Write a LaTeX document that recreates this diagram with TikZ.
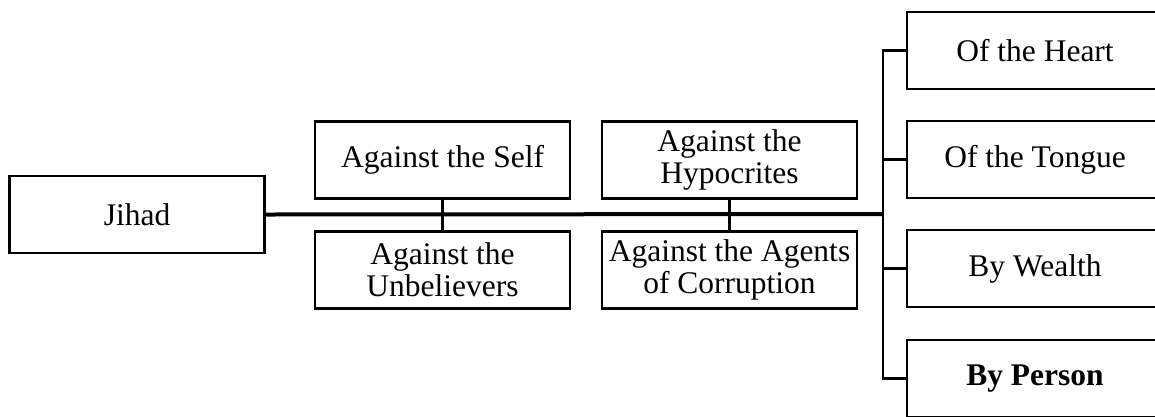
\documentclass[tikz,border=0pt]{standalone}
\usepackage{fontspec}
\setmainfont{Liberation Serif}
\begin{document}
\begin{tikzpicture}[x=1pt,y=-1pt,
  box/.style={draw=black, line width=2.8pt, fill=white, minimum width=255pt, minimum height=77pt,
    inner sep=0pt, align=center, font=\fontsize{31.5}{32}\selectfont},
  trunk/.style={line width=4pt},
  link/.style={line width=2.5pt}]
\useasboundingbox (0,0) rectangle (1155,416);
\clip (0,0) rectangle (1155,416);
\node[box] (jihad) at (137,214.5) {Jihad};
\node[box] (self) at (442.5,160) {Against the Self};
\node[box] (unbel) at (442.5,270) {Against the\\Unbelievers};
\node[box] (hypo) at (729.5,160) {Against the\\Hypocrites};
\node[box] (agents) at (729.5,270) {Against the Agents\\of Corruption};
\node[box, minimum width=256pt] (heart) at (1035,50.5) {Of the Heart};
\node[box, minimum width=256pt] (tongue) at (1035,159.5) {Of the Tongue};
\node[box, minimum width=256pt] (wealth) at (1035,268.5) {By Wealth};
\node[box, minimum width=256pt] (person) at (1035,378.5) {\textbf{By Person}};
\coordinate (bus) at (883,214);
\draw[link] (self.south) -- (unbel.north);
\draw[link] (hypo.south) -- (agents.north);
\draw[trunk] (jihad.east) -- (bus);
\draw[link] (heart.west) -| (bus);
\draw[link] (person.west) -| (bus);
\draw[link] (tongue.west) -- (tongue.west -| bus);
\draw[link] (wealth.west) -- (wealth.west -| bus);
\end{tikzpicture}
\end{document}
